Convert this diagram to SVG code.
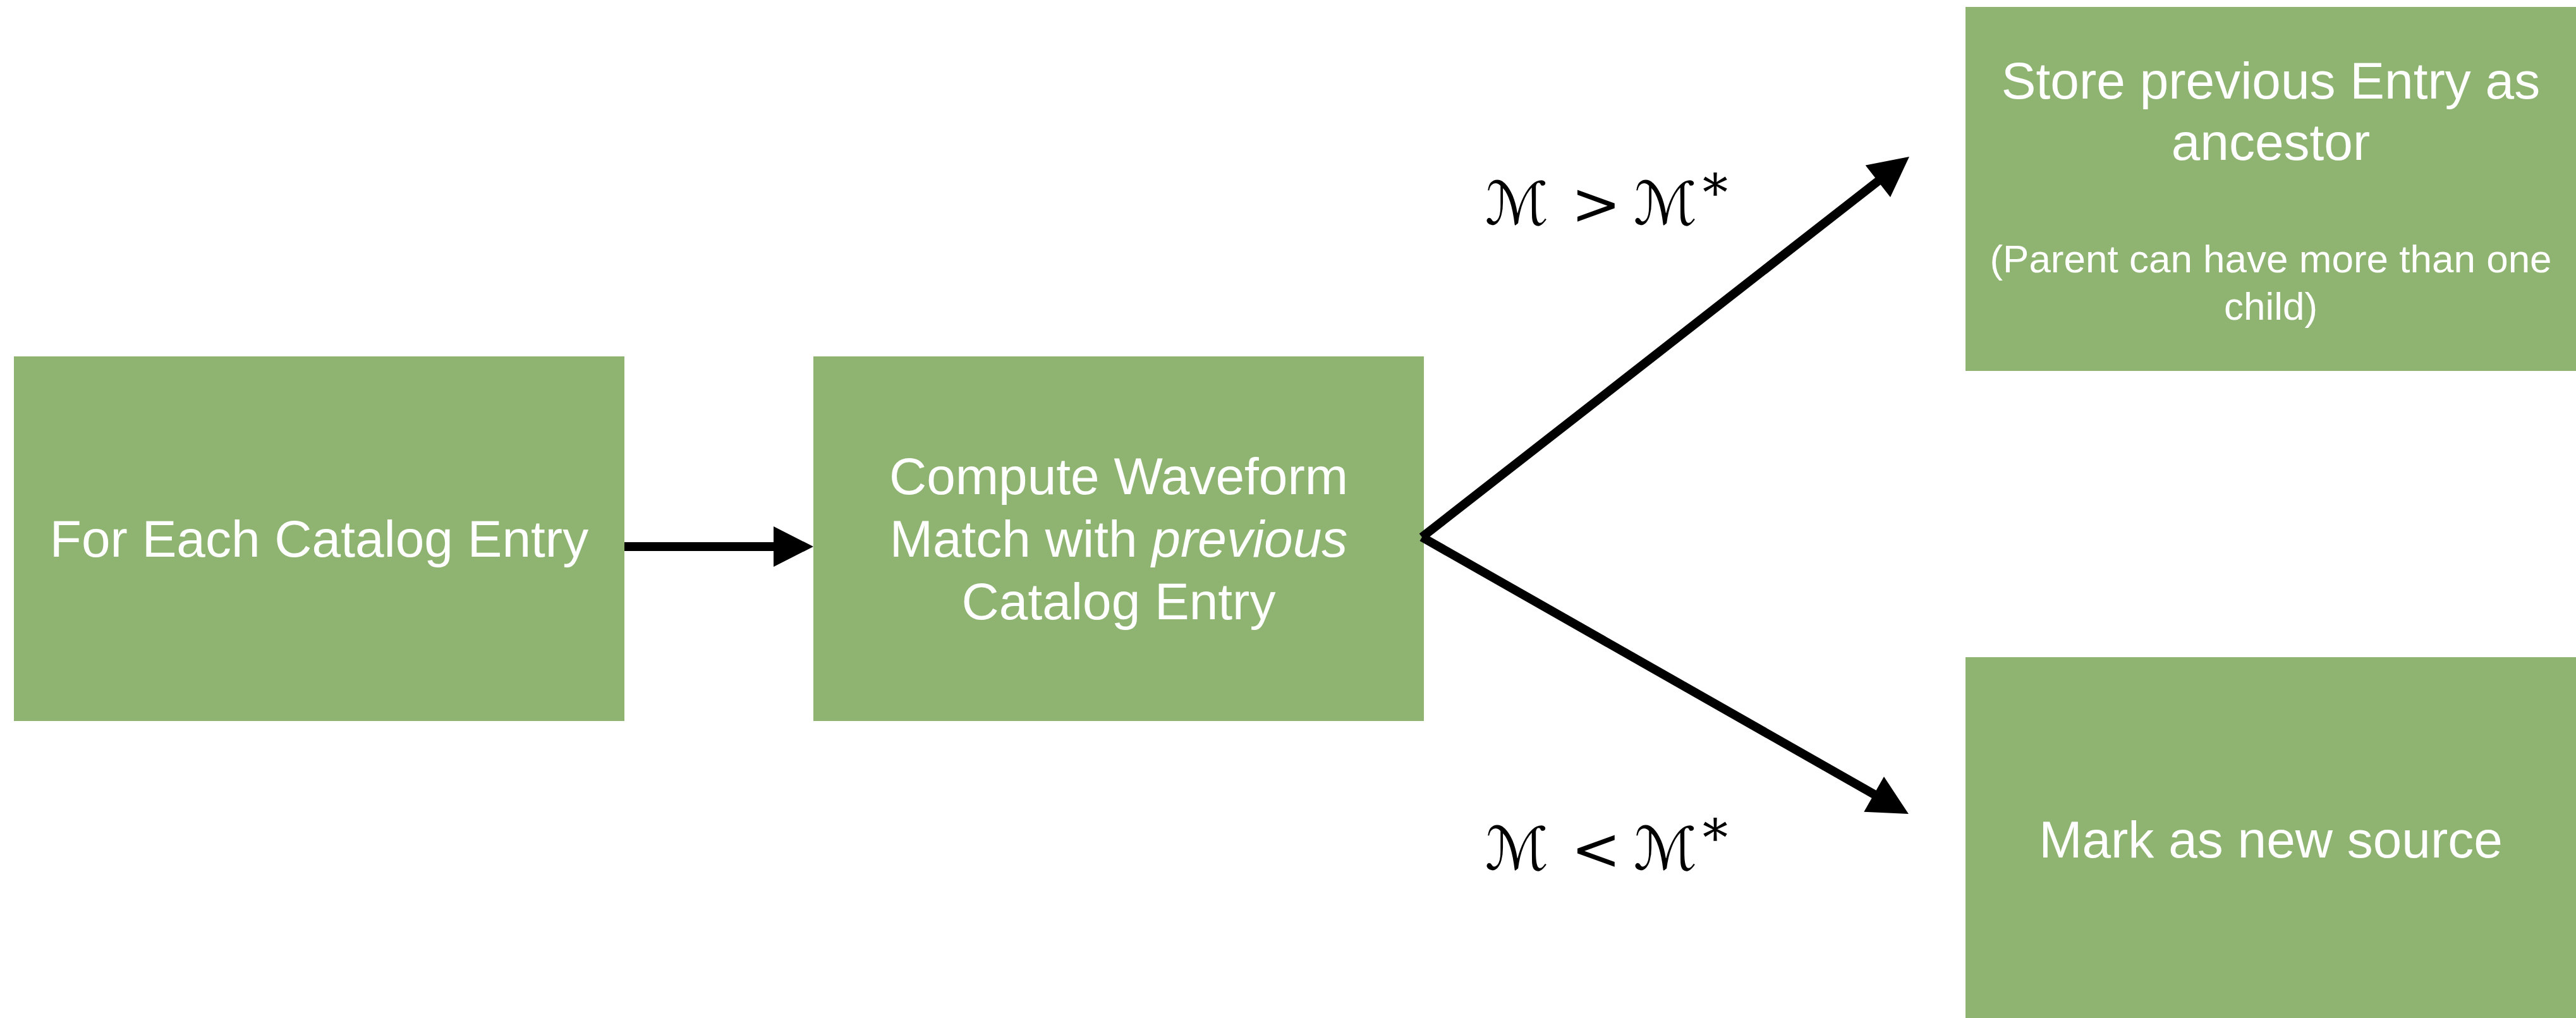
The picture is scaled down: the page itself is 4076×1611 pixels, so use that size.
<svg xmlns="http://www.w3.org/2000/svg" width="4076" height="1611" viewBox="0 0 4076 1611">
<style>
.box{fill:#8FB371;}
.t{font-family:"Liberation Sans",Arial,Helvetica,sans-serif;fill:#FFFFFF;text-anchor:middle;font-size:82px;}
.s{font-size:62px;}
.conn{stroke:#000;stroke-width:14;fill:none;}
.math{font-family:"DejaVu Serif","DejaVu Sans",serif;fill:#000;font-size:94px;}
.scr{font-style:italic;}
</style>
<defs>
<marker id="ah" markerUnits="userSpaceOnUse" markerWidth="64" markerHeight="64" refX="5" refY="32" orient="auto" viewBox="0 0 63 64">
<path d="M0,0 L63,32 L0,64 Z" fill="#000"/>
</marker>
</defs>
<rect width="4076" height="1611" fill="#FFFFFF"/>
<g id="node-foreach">
<rect class="box" x="22" y="564" width="966" height="577"/>
<text class="t" x="505" y="881">For Each Catalog Entry</text>
</g>
<g id="node-compute">
<rect class="box" x="1287" y="564" width="966" height="577"/>
<text class="t" x="1770" y="782">Compute Waveform</text>
<text class="t" x="1770" y="881">Match with <tspan font-style="italic">previous</tspan></text>
<text class="t" x="1770" y="980">Catalog Entry</text>
</g>
<g id="node-store">
<rect class="box" x="3110" y="11" width="966" height="576"/>
<text class="t" x="3593" y="156">Store previous Entry as</text>
<text class="t" x="3593" y="253">ancestor</text>
<text class="t s" x="3593" y="431">(Parent can have more than one</text>
<text class="t s" x="3593" y="506">child)</text>
</g>
<g id="node-mark">
<rect class="box" x="3110" y="1040" width="966" height="571"/>
<text class="t" x="3593" y="1357">Mark as new source</text>
</g>
<g id="connectors">
<line class="conn" x1="988" y1="865" x2="1229" y2="865" marker-end="url(#ah)"/>
<line class="conn" x1="2250" y1="850" x2="2975.3" y2="283.7" marker-end="url(#ah)"/>
<line class="conn" x1="2250" y1="850" x2="2969.5" y2="1259.4" marker-end="url(#ah)"/>
</g>
<g id="label-gt">
<text class="math" y="355"><tspan class="scr" x="2350">ℳ</tspan><tspan x="2486">&gt;</tspan><tspan class="scr" x="2585">ℳ</tspan><tspan x="2694" dy="-22" font-size="80">*</tspan></text>
</g>
<g id="label-lt">
<text class="math" y="1376"><tspan class="scr" x="2350">ℳ</tspan><tspan x="2486">&lt;</tspan><tspan class="scr" x="2585">ℳ</tspan><tspan x="2694" dy="-22" font-size="80">*</tspan></text>
</g>
</svg>
